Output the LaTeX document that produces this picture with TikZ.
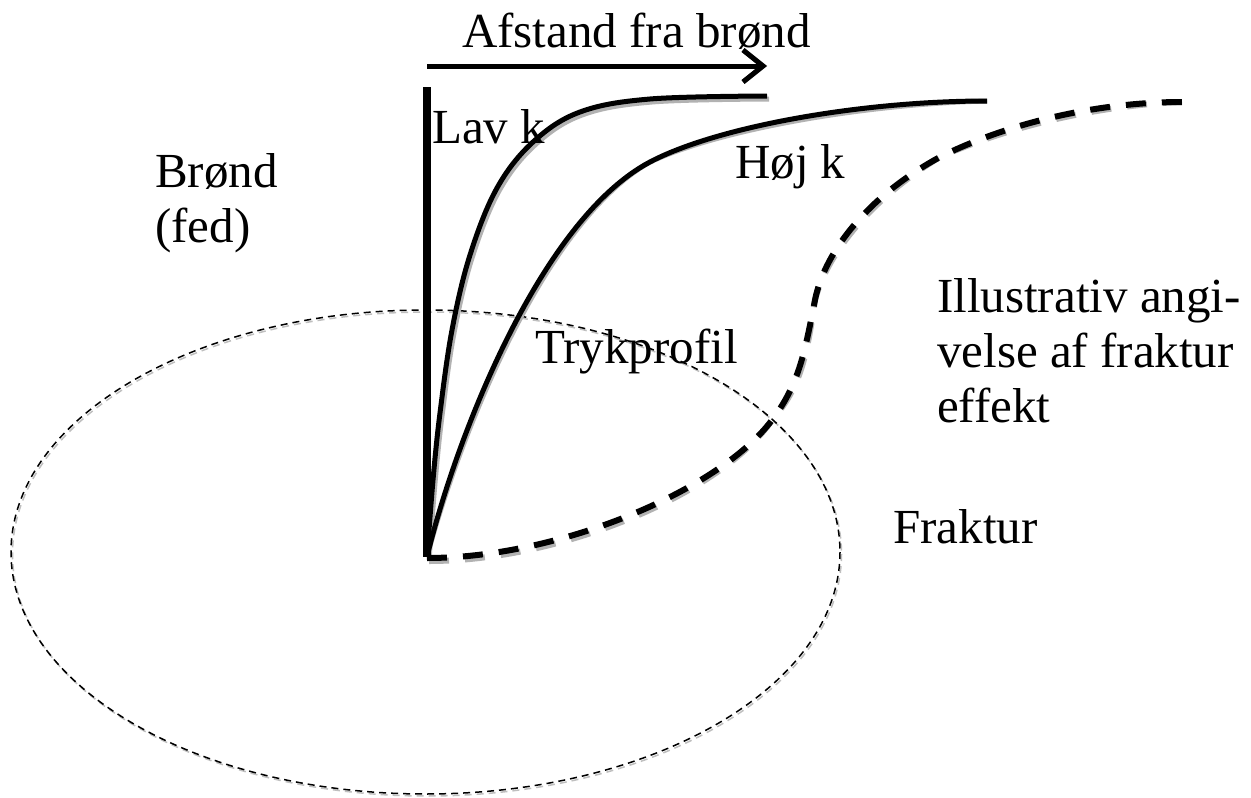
\documentclass[tikz,border=0pt]{standalone}
\usepackage{fontspec}
\setmainfont{Liberation Serif}
\usetikzlibrary{arrows.meta}
\begin{document}
\begin{tikzpicture}[x=1pt,y=-1pt,
  lbl/.style={inner sep=0pt,anchor=base west,font=\fontsize{49}{55}\selectfont,align=left},
  thickcurve/.style={line width=5pt},
  wellline/.style={line width=8pt},
  fracdash/.style={line width=6pt,dash pattern=on 20pt off 16pt},
  ellip/.style={line width=1.5pt,dash pattern=on 7pt off 5pt},
  arrowtip/.style={-{Straight Barb[length=20pt,width=32pt,line width=5pt]}}]
\useasboundingbox (0,0) rectangle (1251,798);
\fill[white] (0,0) rectangle (1251,798);
% key points
\coordinate (base) at (427,557);
\coordinate (welltop) at (427,87);
\coordinate (arrs) at (427,66);
\coordinate (arre) at (767,66);
\coordinate (lavend) at (767,96);
\coordinate (hojmid) at (650,162);
\coordinate (hojend) at (987,101);
\coordinate (f1) at (772,420);
\coordinate (f2) at (815,300);
\coordinate (f3) at (940,157);
\coordinate (fracend) at (1182,102);
\def\lavpath{plot[smooth,tension=0.6] coordinates {(427,557) (433,480) (440,413) (452,330) (470,255) (497,188) (533,142) (580,112) (650,99) (767,96)}}
\def\hojpath{(base) .. controls (455,440) and (540,220) .. (hojmid) .. controls (716,127) and (860,101) .. (hojend)}
\def\fracpath{(427,558) .. controls (560,558) and (720,490) .. (f1) .. controls (800,383) and (805,350) .. (f2) .. controls (825,250) and (870,195) .. (f3) .. controls (1010,122) and (1100,102) .. (fracend)}
% fracture ellipse
\draw[ellip,draw=black!25,shift={(1.5,2)}] (425.5,552) ellipse [x radius=414.5, y radius=242];
\draw[ellip] (425.5,552) ellipse [x radius=414.5, y radius=242];
% shadows
\begin{scope}[shift={(2,3)},black!30]
  \draw[thickcurve,arrowtip] (arrs) -- (arre);
  \draw[thickcurve] \lavpath;
  \draw[thickcurve] \hojpath;
  \draw[fracdash] \fracpath;
\end{scope}
% arrow
\draw[thickcurve,arrowtip] (arrs) -- (arre);
% profile curves
\draw[thickcurve] \lavpath;
\draw[thickcurve] \hojpath;
% fracture effect
\draw[fracdash] \fracpath;
% well
\draw[wellline] (welltop) -- (base);
% labels
\node[lbl] (afst) at (462,47) {Afstand fra brønd};
\node[lbl] (lav) at (432,143) {Lav k};
\node[lbl] (hoj) at (735,178) {Høj k};
\node[lbl] (brond) at (155,242) {Brønd\\(fed)};
\node[lbl] (tryk) at (535,363) {Trykprofil};
\node[lbl] (illu) at (937,422) {Illustrativ angi-\\velse af fraktur\\effekt};
\node[lbl] (frak) at (893,543) {Fraktur};
\end{tikzpicture}
\end{document}
